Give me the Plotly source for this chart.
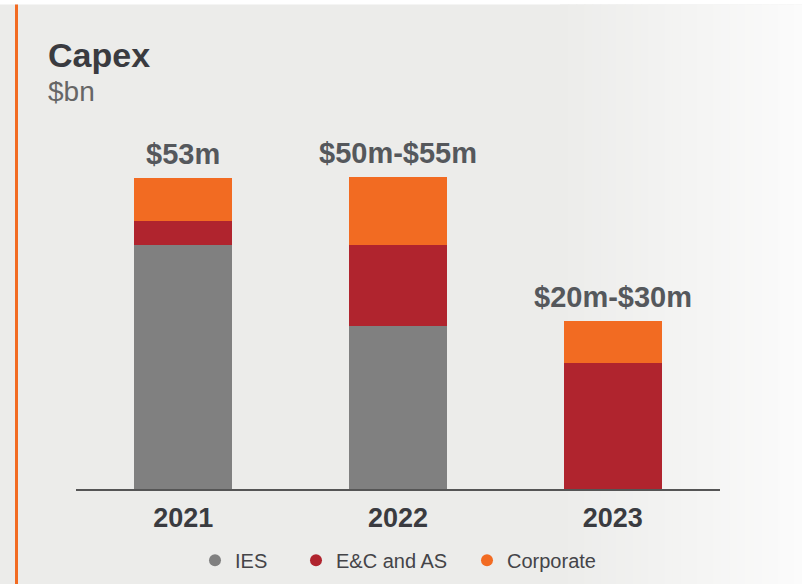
import plotly.graph_objects as go

categories = ["2021", "2022", "2023"]
ies = [41.6, 27.7, 0]
ec_as = [4.1, 13.9, 21.4]
corporate = [7.3, 11.5, 7.3]
total_labels = ["$53m", "$50m-$55m", "$20m-$30m"]

series_names = ["IES", "E&C and AS", "Corporate"]
colors = ["#808080", "#b0242e", "#f26b22"]
legend_circle_px = [216, 317, 488]

# The photographed page is squeezed vertically by ~0.984 (+~1.7px);
# lay out in slightly taller coordinates so the picture lands on target pixels.
SY, OY = 1 / 0.984, 1.7

def ylay(py):
    return (py - OY) * SY

W, H = 802, 592
L, R, T, B = 76, 82, 137, 97
PW, PH = W - L - R, H - T - B

def px2x(px):
    return (px - L) / PW

def px2y(py):
    return (H - B - ylay(py)) / PH

FONT = "Liberation Sans, Arial, sans-serif"

fig = go.Figure()
for name, vals, col in zip(series_names, [ies, ec_as, corporate], colors):
    fig.add_trace(go.Bar(x=categories, y=vals, name=name, marker=dict(color=col, line=dict(width=0)),
                         showlegend=False, hoverinfo="skip"))
legend_keys = ["legend", "legend2", "legend3"]
for name, col, lk in zip(series_names, colors, legend_keys):
    fig.add_trace(go.Scatter(x=[categories[0]], y=[None], mode="markers", name=name, legend=lk,
                             marker=dict(symbol="circle", size=16, color=col)))

totals = [a + b + c for a, b, c in zip(ies, ec_as, corporate)]

annotations = []
for i, (tot, lab) in enumerate(zip(totals, total_labels)):
    annotations.append(dict(x=i, y=tot, text=lab, showarrow=False, yanchor="bottom", yshift=6,
                            font=dict(family=FONT, size=29, color="#55585c", weight="bold")))
annotations.append(dict(xref="paper", yref="paper", x=px2x(46), y=px2y(54), text="Capex", showarrow=False,
                        xanchor="left", yanchor="middle",
                        font=dict(family=FONT, size=34, color="#3a3b40", weight="bold")))
annotations.append(dict(xref="paper", yref="paper", x=px2x(46), y=px2y(91), text="$bn", showarrow=False,
                        xanchor="left", yanchor="middle",
                        font=dict(family=FONT, size=28, color="#666666")))

shapes = []
shapes.append(dict(type="rect", xref="paper", yref="paper", x0=px2x(0), x1=px2x(W), y0=px2y(600), y1=px2y(4),
                   fillcolor="#ececea", line=dict(width=0), layer="below"))
n = 30
start, end = 560, W
c0 = (0xec, 0xec, 0xea)
c1 = (0xfb, 0xfb, 0xfb)
for i in range(n):
    a = start + (end - start) * i / n
    b = start + (end - start) * (i + 1) / n
    t = (i + 0.5) / n
    c = tuple(int(round(c0[k] + (c1[k] - c0[k]) * t)) for k in range(3))
    shapes.append(dict(type="rect", xref="paper", yref="paper", x0=px2x(a), x1=px2x(b) + 0.002,
                       y0=px2y(600), y1=px2y(4), fillcolor="rgb(%d,%d,%d)" % c, line=dict(width=0), layer="below"))
shapes.append(dict(type="rect", xref="paper", yref="paper", x0=px2x(15), x1=px2x(18), y0=px2y(600), y1=px2y(4),
                   fillcolor="#f26b22", line=dict(width=0), layer="below"))

legend_common = dict(orientation="h", xanchor="left", yanchor="middle", y=px2y(560),
                     font=dict(family=FONT, size=20, color="#444448"), bgcolor="rgba(0,0,0,0)",
                     itemsizing="constant", borderwidth=0)
legends = {}
for lk, cx in zip(legend_keys, legend_circle_px):
    legends[lk] = dict(legend_common, x=px2x(cx - 21))

fig.update_layout(
    width=W, height=H, autosize=False,
    margin=dict(l=L, r=R, t=T, b=B, pad=0),
    paper_bgcolor="#ffffff",
    plot_bgcolor="rgba(0,0,0,0)",
    barmode="stack",
    bargap=0.544,
    showlegend=True,
    xaxis=dict(type="category", categoryorder="array", categoryarray=categories,
               range=[-0.5, 2.5], autorange=False,
               showline=True, linecolor="#555555", linewidth=2, ticks="", showgrid=False,
               ticklabelstandoff=4,
               tickfont=dict(family=FONT, size=27, color="#3a3b40", weight="bold"), fixedrange=True),
    yaxis=dict(range=[0, 60], autorange=False, visible=False, showgrid=False, zeroline=False, fixedrange=True),
    annotations=annotations,
    shapes=shapes,
    **legends,
)

post = """
document.documentElement.style.margin = '0';
document.body.style.margin = '0';
document.body.style.overflow = 'hidden';
"""
fig.write_html("out.html", config={"displayModeBar": False, "responsive": False}, post_script=post)
